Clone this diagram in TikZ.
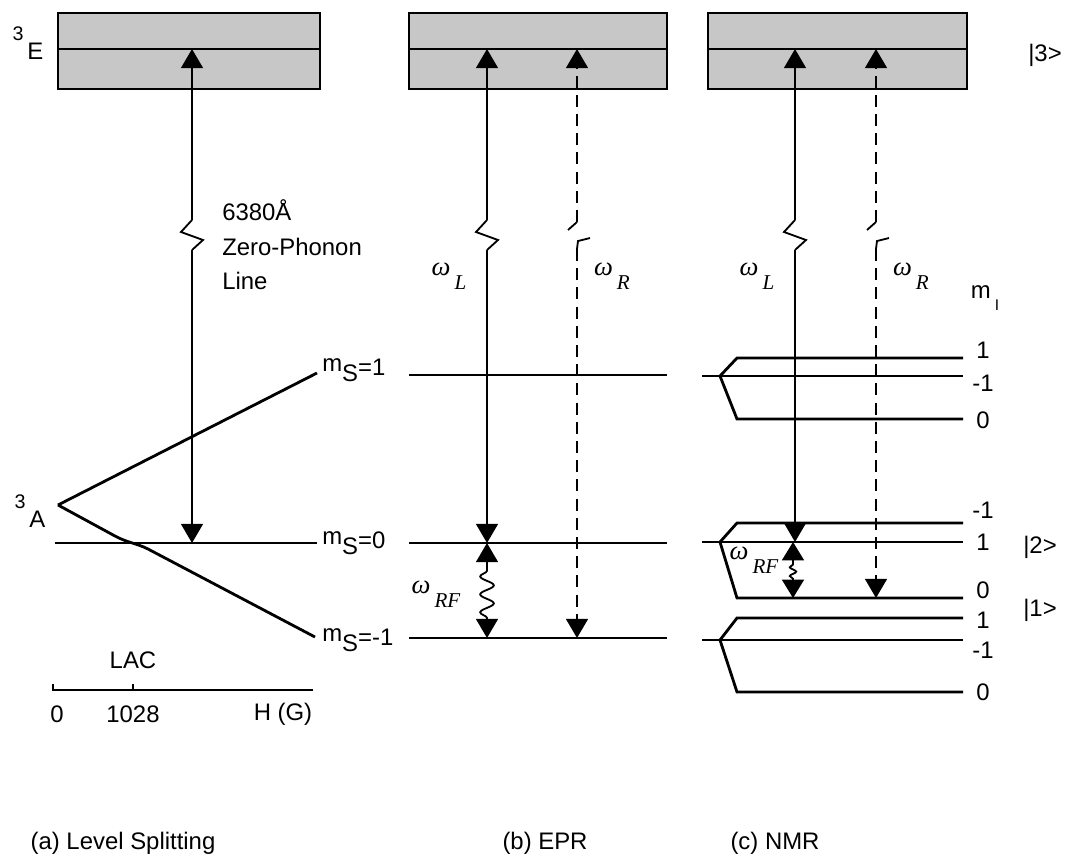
\documentclass[tikz,border=0pt]{standalone}
\usepackage{fontspec}
\setmainfont{Liberation Sans}
\newfontfamily\grkfont{Liberation Serif}
\usetikzlibrary{arrows.meta, decorations.pathmorphing, positioning}

\newcommand{\omlab}[1]{{\grkfont\itshape\fontsize{19}{19}\selectfont ω}\,\raisebox{-0.6em}{\grkfont\itshape\fontsize{15}{15}\selectfont #1}}
\newcommand{\mslab}[1]{m\raisebox{-0.4em}{S}\raisebox{-0.15em}{=#1}}

\begin{document}
\begin{tikzpicture}[x=0.025cm, y=-0.025cm,
    every node/.style={font=\fontsize{17}{19}\selectfont, inner sep=0pt},
    band/.style={draw, line width=1.4pt, fill=black!22},
    lvl/.style={line width=2pt},
    axis/.style={line width=0.9pt},
    opt/.style={line width=1.3pt},
    optdash/.style={opt, dash pattern=on 0.3cm off 0.18cm},
    tip/.style={-{Triangle[width=5.5mm,length=4.8mm]}},
    rf/.style={opt, {Triangle[width=5.5mm,length=4.8mm]}-{Triangle[width=5.5mm,length=4.8mm]},
               decorate, decoration={snake, amplitude=0.17cm, segment length=0.45cm,
               pre length=0.5cm, post length=0.5cm}},
    rfs/.style={opt, {Triangle[width=5.5mm,length=4.6mm]}-{Triangle[width=5.5mm,length=4.6mm]},
               decorate, decoration={snake, amplitude=0.08cm, segment length=0.22cm,
               pre length=0.48cm, post length=0.48cm}}
]
\useasboundingbox (0,0) rectangle (1065,857);

% excited state bands
\foreach \xl/\xr in {58/320, 409/667, 708/967} {
    \draw[band] (\xl,13) rectangle (\xr,89);
    \draw[line width=1.4pt] (\xl,49) -- (\xr,49);
}
\node (lE) at (28,43) {\raisebox{0.8em}{\fontsize{14}{14}\selectfont 3}\,E};
\node (k3) at (1045,55) {|3>};

% ---- (a) level splitting
\coordinate (aTop) at (192,49);
\coordinate (aBot) at (192,543);
\coordinate (aBrk) at (192,220);
\coordinate (aBrk2) at (192,250);
\coordinate (apex) at (58,505);
\draw[lvl] (55,543) -- (317,543);
\draw[lvl] (apex) -- (317,373);
\draw[lvl] (apex) -- (115,536) .. controls (128,543) and (136,543) .. (148,549) -- (315,637);
\draw[opt, tip] (aBrk) -- (aTop);
\draw[opt] (aBrk) -- ++(-11,12) -- ++(22,8) -- (aBrk2);
\draw[opt, tip] (aBrk2) -- (aBot);
\node[anchor=west] (wl1) at (222,210) {6380Å};
\node[anchor=west] (wl2) at (222,247) {Zero-Phonon};
\node[anchor=west] (wl3) at (222,281) {Line};
\node (lA) at (30,511) {\raisebox{0.8em}{\fontsize{14}{14}\selectfont 3}\,A};
\node[anchor=west] (ms1) at (322,370) {\mslab{1}};
\node[anchor=west] (ms0) at (322,543) {\mslab{0}};
\node[anchor=west] (msm) at (322,640) {\mslab{-1}};
% field axis
\draw[axis] (53,684) -- (53,690) -- (313,690);
\draw[axis] (133,684) -- (133,690);
\node (lac) at (133,660) {LAC};
\node (h0) at (57,714) {0};
\node (h1) at (133,714) {1028};
\node (hG) at (283,714) {H (G)};

% ---- (b) EPR
\foreach \yy in {375, 543, 638}
    \draw[lvl] (409,\yy) -- (667,\yy);
\coordinate (bLtop) at (487,49);
\coordinate (bLbrk) at (487,220);
\coordinate (bLbrk2) at (487,250);
\coordinate (bLbot) at (487,543);
\coordinate (bRtop) at (577,49);
\coordinate (bRbrk) at (577,222);
\coordinate (bRbrk2) at (577,249);
\coordinate (bRbot) at (577,638);
\coordinate (bRFa) at (487,543);
\coordinate (bRFb) at (487,638);
\draw[opt, tip] (bLbrk) -- (bLtop);
\draw[opt] (bLbrk) -- ++(-11,12) -- ++(22,8) -- (bLbrk2);
\draw[opt, tip] (bLbrk2) -- (bLbot);
\draw[optdash, tip] (bRbrk) -- (bRtop);
\draw[opt] (bRbrk) -- ++(-9,8);
\draw[opt] (bRbrk2) -- ++(1,-8) -- ++(12,-3);
\draw[optdash, tip] (bRbrk2) -- (bRbot);
\draw[rf] (bRFb) -- (bRFa);
\node (bwL) at (449,276) {\omlab{L}};
\node (bwR) at (612,276) {\omlab{R}};
\node (bwRF) at (436,594) {\omlab{RF}};

% ---- (c) NMR
\foreach \ym/\yu/\yd in {376/358/419, 542/523/598, 640/618/692} {
    \draw[lvl] (702,\ym) -- (963,\ym);
    \draw[lvl] (963,\yu) -- (737,\yu) -- (720,\ym) -- (737,\yd) -- (963,\yd);
}
\coordinate (cLtop) at (795,49);
\coordinate (cLbrk) at (795,220);
\coordinate (cLbrk2) at (795,250);
\coordinate (cLbot) at (795,542);
\coordinate (cRtop) at (876,49);
\coordinate (cRbrk) at (876,222);
\coordinate (cRbrk2) at (876,249);
\coordinate (cRbot) at (876,598);
\coordinate (cRFa) at (793,542);
\coordinate (cRFb) at (793,598);
\draw[opt, tip] (cLbrk) -- (cLtop);
\draw[opt] (cLbrk) -- ++(-11,12) -- ++(22,8) -- (cLbrk2);
\draw[opt, tip] (cLbrk2) -- (cLbot);
\draw[optdash, tip] (cRbrk) -- (cRtop);
\draw[opt] (cRbrk) -- ++(-9,8);
\draw[opt] (cRbrk2) -- ++(1,-8) -- ++(12,-3);
\draw[optdash, tip] (cRbrk2) -- (cRbot);
\draw[rfs] (cRFb) -- (cRFa);
\node (cwL) at (757,276) {\omlab{L}};
\node (cwR) at (911,276) {\omlab{R}};
\node (cwRF) at (754,560) {\omlab{RF}};
\node (mI) at (985,298) {m\,\raisebox{-0.5em}{\fontsize{11}{11}\selectfont I}};
\foreach \yy/\tx in {350/1, 383/-1, 420/0, 510/-1, 542/1, 590/0, 620/1, 650/-1, 692/0}
    \node at (983,\yy) {\tx};
\node (k2) at (1040,547) {|2>};
\node (k1) at (1040,610) {|1>};

% captions
\node (capA) at (123,843) {(a) Level Splitting};
\node (capB) at (545,843) {(b) EPR};
\node (capC) at (775,843) {(c) NMR};
\end{tikzpicture}
\end{document}
